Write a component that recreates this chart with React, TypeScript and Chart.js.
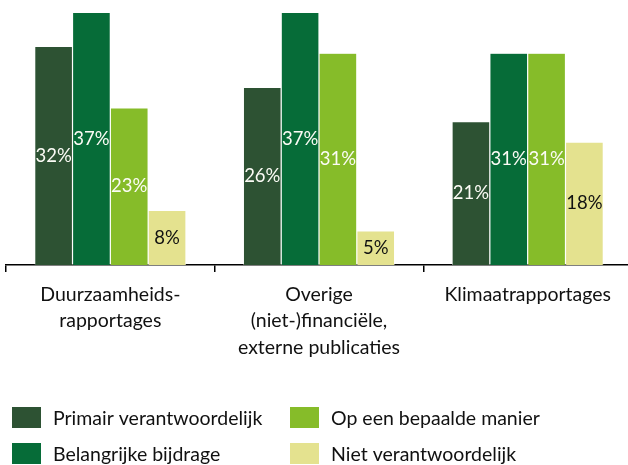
import React, { useEffect, useRef } from "react";
import { Chart, registerables } from "chart.js";

Chart.register(...registerables);

const categories: string[][] = [
  ["Duurzaamheids-", "rapportages"],
  ["Overige", "(niet-)financiële,", "externe publicaties"],
  ["Klimaatrapportages"],
];

const seriesNames = [
  "Primair verantwoordelijk",
  "Belangrijke bijdrage",
  "Op een bepaalde manier",
  "Niet verantwoordelijk",
];

const primair = [32, 26, 21];
const belangrijk = [37, 37, 31];
const bepaald = [23, 31, 31];
const niet = [8, 5, 18];

const colors = ["#2D5233", "#066C38", "#86BC29", "#E4E28F"];
const labelColors = ["#fbfbf5", "#fbfbf5", "#fbfbf5", "#111111"];

const FONT = "Lato, 'Open Sans', sans-serif";

const valueLabels = {
  id: "valueLabels",
  afterDatasetsDraw(chart: any) {
    const ctx = chart.ctx;
    ctx.save();
    ctx.font = `18.5px ${FONT}`;
    ctx.textAlign = "center";
    ctx.textBaseline = "middle";
    chart.data.datasets.forEach((ds: any, i: number) => {
      const meta = chart.getDatasetMeta(i);
      meta.data.forEach((el: any, j: number) => {
        const p = el.getProps(["x", "y", "base"], true);
        ctx.fillStyle = labelColors[i];
        ctx.fillText(ds.data[j] + "%", p.x, (p.y + p.base) / 2);
      });
    });
    ctx.restore();
  },
};

const gridLegend = {
  id: "gridLegend",
  afterDraw(chart: any) {
    const ctx = chart.ctx;
    ctx.save();
    ctx.font = `19.5px ${FONT}`;
    ctx.textAlign = "left";
    ctx.textBaseline = "middle";
    chart.data.datasets.forEach((ds: any, i: number) => {
      const col = Math.floor(i / 2);
      const row = i % 2;
      const bx = 12 + col * 278;
      const by = 407 + row * 36;
      ctx.fillStyle = ds.backgroundColor;
      ctx.fillRect(bx, by, 29, 21);
      ctx.fillStyle = "#111111";
      ctx.fillText(ds.label, bx + 41, by + 11.5);
    });
    ctx.restore();
  },
};

export default function App() {
  const ref = useRef<HTMLCanvasElement>(null);
  useEffect(() => {
    if (!ref.current) return;
    const data = [primair, belangrijk, bepaald, niet];
    const chart = new Chart(ref.current, {
      type: "bar",
      data: {
        labels: categories,
        datasets: data.map((d, i) => ({
          label: seriesNames[i],
          data: d,
          backgroundColor: colors[i],
          borderColor: "#ffffff",
          borderWidth: 0.6,
          barPercentage: 1,
          categoryPercentage: 0.725,
        })),
      },
      options: {
        responsive: false,
        animation: false,
        layout: { padding: { left: 6, right: 1, top: 0, bottom: 0 } },
        plugins: {
          legend: { display: false },
          tooltip: { enabled: false },
        },
        scales: {
          x: {
            grid: {
              offset: true,
              drawOnChartArea: false,
              drawTicks: true,
              tickLength: 7,
              tickColor: "#000000",
              lineWidth: 1.5,
            },
            border: { display: true, color: "#000000", width: 1.5 },
            ticks: {
              color: "#111111",
              font: { family: FONT, size: 19.5, lineHeight: 1.36 },
              padding: 9,
              maxRotation: 0,
              autoSkip: false,
            },
            afterFit: (scale: any) => {
              scale.height = 200;
            },
          },
          y: {
            display: false,
            min: 0,
            max: 38.8,
          },
        },
      },
      plugins: [valueLabels, gridLegend],
    });
    return () => chart.destroy();
  }, []);
  return (
    <div
      style={{
        position: "fixed",
        left: 0,
        top: 0,
        width: 628,
        height: 465,
        overflow: "hidden",
        background: "#ffffff",
      }}
    >
      <canvas ref={ref} width={633} height={465} style={{ width: 633, height: 465 }} />
    </div>
  );
}
